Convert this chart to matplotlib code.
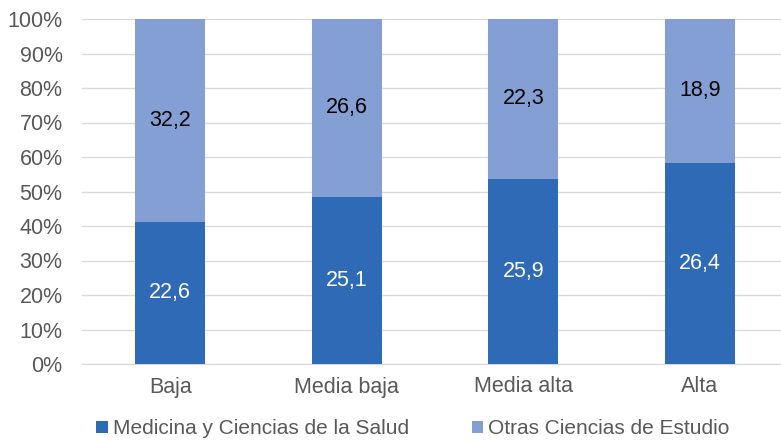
import numpy as np
import matplotlib.pyplot as plt
from matplotlib.ticker import PercentFormatter
plt.rcParams['font.family'] = ['Liberation Sans', 'DejaVu Sans']

categorias = ['Baja', 'Media baja', 'Media alta', 'Alta']
medicina = [22.6, 25.1, 25.9, 26.4]
otras = [32.2, 26.6, 22.3, 18.9]

med = np.array(medicina)
otr = np.array(otras)
total = med + otr
med_pct = med / total * 100
otr_pct = otr / total * 100

c_med = '#2E6AB6'
c_otr = '#839FD4'

fig = plt.figure(figsize=(7.81, 4.41), dpi=100)
ax = fig.add_axes([82 / 781, 1 - 364 / 441, 706 / 781, 345 / 441])

x = np.arange(len(categorias))
b1 = ax.bar(x, med_pct, width=0.395, color=c_med, label='Medicina y Ciencias de la Salud', zorder=3)
b2 = ax.bar(x, otr_pct, width=0.395, bottom=med_pct, color=c_otr, label='Otras Ciencias de Estudio', zorder=3)

for i in range(len(x)):
    ax.text(x[i], med_pct[i] / 2, f'{medicina[i]:.1f}'.replace('.', ','), ha='center', va='center',
            color='white', fontsize=15.5)
    ax.text(x[i], med_pct[i] + otr_pct[i] / 2, f'{otras[i]:.1f}'.replace('.', ','), ha='center', va='center',
            color='black', fontsize=15.5)

ax.set_xlim(-0.5, 3.5)
ax.set_ylim(0, 100)
ax.set_yticks(np.arange(0, 101, 10))
ax.yaxis.set_major_formatter(PercentFormatter(decimals=0))
ax.set_xticks(x)
ax.set_xticklabels(categorias)
ax.tick_params(axis='both', length=0, labelsize=15.5, colors='#595959')
ax.tick_params(axis='y', pad=14)
ax.tick_params(axis='x', pad=9)
ax.grid(axis='y', color='#D9D9D9', linewidth=1, zorder=0)
for s in ['top', 'right', 'left']:
    ax.spines[s].set_visible(False)
ax.spines['bottom'].set_color('#D9D9D9')

fig.legend(handles=[b1, b2], loc='center left', bbox_to_anchor=(88 / 781, 1 - 429 / 441), ncol=2,
           frameon=False, borderaxespad=0, fontsize=15, handlelength=0.55, handleheight=0.55,
           handletextpad=0.25, columnspacing=3.0, labelcolor='#595959')

fig.savefig('out.png', dpi=100)
